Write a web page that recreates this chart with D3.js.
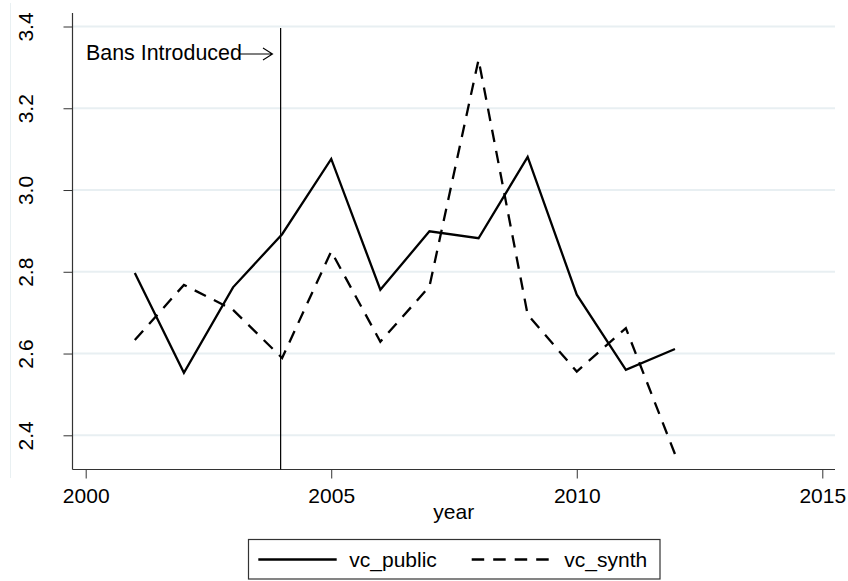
<!DOCTYPE html>
<html>
<head>
<meta charset="utf-8">
<script src="https://cdn.jsdelivr.net/npm/d3@7"></script>
<style>
  html, body { margin: 0; padding: 0; background: #fff; }
  svg { display: block; }
  text { font-family: "Liberation Sans", Arial, sans-serif; fill: #000; }
</style>
</head>
<body>
<svg id="chart" width="848" height="581"></svg>
<script>
// ---- data ----
const years = [2001, 2002, 2003, 2004, 2005, 2006, 2007, 2008, 2009, 2010, 2011, 2012];
const vcPublic = [2.797, 2.553, 2.762, 2.892, 3.076, 2.756, 2.899, 2.882, 3.081, 2.744, 2.560, 2.611];
const vcSynth  = [2.633, 2.768, 2.707, 2.589, 2.850, 2.629, 2.764, 3.319, 2.695, 2.556, 2.662, 2.354];
const xTicks = [2000, 2005, 2010, 2015];
const yTicks = [2.4, 2.6, 2.8, 3.0, 3.2, 3.4];
const seriesNames = ["vc_public", "vc_synth"];
const banYear = 2004;
const annotation = "Bans Introduced";

// ---- layout ----
const svg = d3.select("#chart");
const plotLeft = 72.5, plotRight = 835, plotTop = 13, plotBottom = 469.5;
const x = d3.scaleLinear().domain([2000, 2015]).range([85.7, 822.3]);
const y = d3.scaleLinear().domain([2.4, 3.4]).range([435.3, 26.5]);

// faint outer frame edge
svg.append("line").attr("x1", 10.5).attr("x2", 10.5).attr("y1", 3).attr("y2", 478)
  .attr("stroke", "#e9f0f2").attr("stroke-width", 1);

// gridlines
svg.append("g").selectAll("line").data(yTicks).join("line")
  .attr("x1", plotLeft).attr("x2", plotRight)
  .attr("y1", d => y(d)).attr("y2", d => y(d))
  .attr("stroke", "#e8eff2").attr("stroke-width", 2);

// y axis
const yAxis = d3.axisLeft(y).tickValues(yTicks).tickSize(9).tickFormat(d3.format(".1f"));
const gy = svg.append("g").attr("transform", `translate(${plotLeft},0)`).call(yAxis);
gy.select(".domain").remove();
gy.selectAll(".tick line").attr("stroke", "#333");
gy.selectAll(".tick text")
  .attr("font-size", 21)
  .attr("font-family", "Liberation Sans, Arial, sans-serif")
  .attr("fill", "#000")
  .attr("text-anchor", "middle")
  .attr("x", null).attr("dy", null)
  .attr("transform", "translate(-39.5,0) rotate(-90)");
svg.append("line").attr("x1", plotLeft).attr("x2", plotLeft)
  .attr("y1", plotTop).attr("y2", plotBottom).attr("stroke", "#333").attr("stroke-width", 1.2);

// x axis
const xAxis = d3.axisBottom(x).tickValues(xTicks).tickSize(9).tickFormat(d3.format("d"));
const gx = svg.append("g").attr("transform", `translate(0,${plotBottom})`).call(xAxis);
gx.select(".domain").remove();
gx.selectAll(".tick line").attr("stroke", "#333");
gx.selectAll(".tick text")
  .attr("font-size", 21)
  .attr("font-family", "Liberation Sans, Arial, sans-serif")
  .attr("fill", "#000")
  .attr("y", 33).attr("dy", null);
svg.append("line").attr("x1", plotLeft).attr("x2", plotRight)
  .attr("y1", plotBottom).attr("y2", plotBottom).attr("stroke", "#333").attr("stroke-width", 1.2);

svg.append("text").attr("x", (plotLeft + plotRight) / 2).attr("y", 519)
  .attr("text-anchor", "middle").attr("font-size", 21).text("year");

// vertical ban line
svg.append("line").attr("x1", x(banYear) - 1.5).attr("x2", x(banYear) - 1.5)
  .attr("y1", y(3.4) + 1.5).attr("y2", plotBottom)
  .attr("stroke", "#000").attr("stroke-width", 1.2);

// annotation
svg.append("text").attr("x", 86).attr("y", 60).attr("font-size", 21.4).text(annotation);
const ay = 54;
svg.append("path")
  .attr("d", `M240,${ay}L272.5,${ay}M263,${ay - 6}L272.5,${ay}L263,${ay + 6}`)
  .attr("fill", "none").attr("stroke", "#000").attr("stroke-width", 1.1);

// lines
const line = d3.line().x(d => x(d[0])).y(d => y(d[1]));
svg.append("path").datum(years.map((yr, i) => [yr, vcPublic[i]]))
  .attr("d", line).attr("fill", "none").attr("stroke", "#000").attr("stroke-width", 2.3)
  .attr("stroke-linejoin", "miter");
svg.append("path").datum(years.map((yr, i) => [yr, vcSynth[i]]))
  .attr("d", line).attr("fill", "none").attr("stroke", "#000").attr("stroke-width", 2.3)
  .attr("stroke-dasharray", "12.5,9");

// legend
svg.append("rect").attr("x", 248.5).attr("y", 539.5).attr("width", 411.5).attr("height", 39.5)
  .attr("fill", "#fff").attr("stroke", "#333").attr("stroke-width", 1.2);
svg.append("line").attr("x1", 258.3).attr("x2", 336.7).attr("y1", 559.5).attr("y2", 559.5)
  .attr("stroke", "#000").attr("stroke-width", 2.3);
svg.append("text").attr("x", 349.3).attr("y", 567).attr("font-size", 21).text(seriesNames[0]);
svg.append("line").attr("x1", 471.7).attr("x2", 551.7).attr("y1", 559.5).attr("y2", 559.5)
  .attr("stroke", "#000").attr("stroke-width", 2.3).attr("stroke-dasharray", "12.5,9");
svg.append("text").attr("x", 564.3).attr("y", 567).attr("font-size", 21).text(seriesNames[1]);
</script>
</body>
</html>
